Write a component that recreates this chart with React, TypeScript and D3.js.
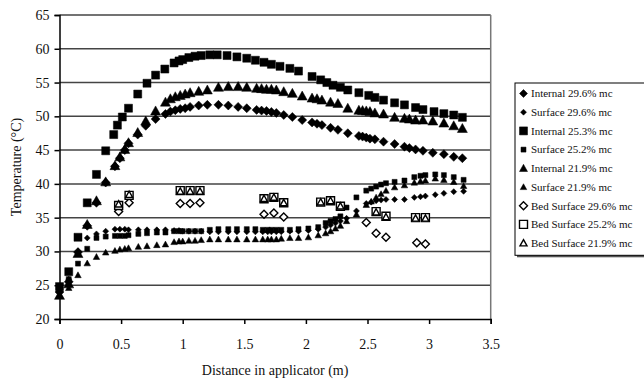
import React, { useEffect, useRef } from 'react';
import * as d3 from 'd3';

const W = 644;
const H = 384;

// distance along applicator (m) for the internal probes
const internal253X = [0, 0.075, 0.15, 0.225, 0.3, 0.375, 0.44, 0.47, 0.51, 0.56, 0.635, 0.71, 0.78, 0.855, 0.93, 0.97, 1.0, 1.05, 1.1, 1.15, 1.22, 1.28, 1.36, 1.44, 1.52, 1.59, 1.66, 1.72, 1.79, 1.87, 1.94, 2.05, 2.12, 2.17, 2.22, 2.28, 2.34, 2.43, 2.51, 2.56, 2.63, 2.72, 2.8, 2.89, 2.95, 3.04, 3.12, 3.2, 3.27];
const internal253 = [24.8, 27.0, 32.1, 37.2, 41.4, 44.9, 47.3, 48.7, 49.9, 51.2, 53.3, 54.9, 56.1, 57.0, 57.9, 58.2, 58.4, 58.7, 58.9, 59.0, 59.1, 59.1, 59.0, 58.8, 58.6, 58.3, 58.0, 57.7, 57.4, 57.1, 56.7, 55.9, 55.4, 55.0, 54.6, 54.3, 53.9, 53.5, 53.1, 52.8, 52.4, 52.0, 51.7, 51.3, 51.0, 50.7, 50.4, 50.2, 49.85];

const internalX = [0, 0.075, 0.15, 0.225, 0.3, 0.375, 0.45, 0.49, 0.53, 0.56, 0.635, 0.7, 0.78, 0.86, 0.9, 0.94, 0.98, 1.02, 1.06, 1.13, 1.2, 1.29, 1.37, 1.45, 1.52, 1.6, 1.64, 1.68, 1.72, 1.76, 1.82, 1.89, 1.97, 2.05, 2.09, 2.13, 2.2, 2.26, 2.34, 2.43, 2.46, 2.49, 2.52, 2.56, 2.63, 2.72, 2.8, 2.84, 2.89, 2.95, 3.03, 3.12, 3.2, 3.27];
const internal296 = [24.0, 25.5, 29.9, 33.8, 37.2, 40.2, 42.6, 43.8, 45.0, 46.0, 47.3, 48.6, 49.6, 50.35, 50.7, 50.9, 51.1, 51.2, 51.4, 51.6, 51.7, 51.7, 51.6, 51.4, 51.2, 50.95, 50.85, 50.8, 50.65, 50.5, 50.2, 49.9, 49.45, 49.1, 48.9, 48.7, 48.3, 48.0, 47.5, 47.1, 47.0, 46.85, 46.7, 46.6, 46.25, 45.9, 45.5, 45.3, 45.1, 44.9, 44.6, 44.4, 44.0, 43.8];
const internal219 = [23.5, 25.2, 29.7, 34.0, 37.5, 40.3, 42.7, 44.0, 45.1, 46.1, 47.6, 49.3, 50.8, 52.1, 52.6, 52.9, 53.1, 53.3, 53.5, 53.7, 53.9, 54.3, 54.4, 54.4, 54.3, 54.15, 54.1, 54.0, 54.0, 53.9, 53.65, 53.4, 53.0, 52.7, 52.6, 52.4, 52.1, 51.9, 51.2, 50.9, 50.85, 50.8, 50.7, 50.5, 50.35, 49.85, 49.7, 49.6, 49.45, 49.45, 49.3, 49.0, 48.6, 48.2];

// surface probes
const surfaceX = [0, 0.075, 0.15, 0.225, 0.3, 0.375, 0.45, 0.49, 0.53, 0.56, 0.64, 0.71, 0.79, 0.86, 0.93, 0.97, 1.0, 1.05, 1.1, 1.15, 1.22, 1.29, 1.37, 1.44, 1.52, 1.59, 1.65, 1.69, 1.72, 1.76, 1.8, 1.87, 1.94, 2.02, 2.1, 2.16, 2.2, 2.24, 2.28, 2.33, 2.41, 2.49, 2.53, 2.57, 2.61, 2.65, 2.72, 2.8, 2.88, 2.93, 2.97, 3.05, 3.12, 3.2, 3.28];
const surface296 = [24.3, 25.9, 29.8, 32.0, 32.6, 33.0, 33.3, 33.3, 33.3, 33.2, 33.2, 33.2, 33.2, 33.2, 33.1, 33.1, 33.0, 33.0, 33.0, 33.0, 32.9, 32.9, 32.9, 32.9, 32.9, 32.9, 32.9, 32.9, 32.9, 32.9, 32.9, 33.0, 33.0, 33.1, 33.3, 33.6, 33.9, 34.2, 34.5, 34.9, 36.0, 37.1, 37.3, 37.5, 37.6, 37.7, 37.7, 37.7, 38.0, 38.1, 38.2, 38.4, 38.6, 38.85, 38.9];
const surface252 = [24.7, 25.9, 28.2, 30.4, 32.0, 32.2, 32.3, 32.3, 32.3, 32.4, 32.6, 32.7, 32.8, 32.8, 33.0, 33.0, 33.0, 33.0, 33.0, 33.0, 33.2, 33.3, 33.3, 33.3, 33.3, 33.3, 33.2, 33.2, 33.2, 33.2, 33.2, 33.2, 33.3, 33.4, 33.6, 34.2, 34.5, 34.8, 35.2, 36.5, 38.0, 39.0, 39.3, 39.6, 39.9, 40.1, 40.3, 40.5, 41.0, 41.2, 41.3, 41.4, 41.3, 41.0, 40.6];
const surface219 = [23.55, 24.6, 26.5, 28.25, 29.2, 29.85, 30.1, 30.3, 30.4, 30.5, 30.7, 30.8, 30.95, 31.05, 31.4, 31.5, 31.5, 31.6, 31.6, 31.7, 31.8, 31.8, 31.8, 31.8, 31.8, 31.8, 31.8, 31.8, 31.8, 31.8, 31.9, 32.0, 32.0, 32.1, 32.4, 32.7, 33.0, 33.4, 33.8, 34.5, 35.5, 36.9, 37.4, 38.0, 38.5, 39.0, 39.5, 39.8, 40.2, 40.4, 40.5, 40.8, 40.6, 40.3, 39.7];

// bed surface readings
const bed296X = [0.48, 0.565, 0.98, 1.06, 1.14, 1.66, 1.74, 1.82, 2.49, 2.57, 2.65, 2.9, 2.97];
const bed296 = [35.9, 37.2, 37.1, 37.1, 37.2, 35.5, 35.7, 35.1, 34.3, 32.7, 32.1, 31.3, 31.1];
const bedX = [0.48, 0.565, 0.98, 1.06, 1.14, 1.66, 1.74, 1.82, 2.12, 2.2, 2.28, 2.57, 2.65, 2.89, 2.97];
const bed252 = [36.8, 38.3, 39.0, 39.0, 39.0, 37.8, 38.0, 37.2, 37.3, 37.5, 36.7, 35.9, 35.2, 35.0, 35.0];
const bed219 = [37.0, 38.4, 38.9, 38.9, 38.9, 37.8, 38.0, 37.2, 37.3, 37.5, 36.7, 35.8, 35.1, 34.9, 34.9];

const seriesNames = ['Internal 29.6% mc', 'Surface 29.6% mc', 'Internal 25.3% mc', 'Surface 25.2% mc', 'Internal 21.9% mc', 'Surface 21.9% mc', 'Bed Surface 29.6% mc', 'Bed Surface 25.2% mc', 'Bed Surface 21.9% mc'];
const xTicks = [0, 0.5, 1, 1.5, 2, 2.5, 3, 3.5];
const yTicks = [20, 25, 30, 35, 40, 45, 50, 55, 60, 65];

// custom marker shapes, size = (full width)^2
const square = { draw(ctx: any, size: number) { const r = Math.sqrt(size) / 2; ctx.rect(-r, -r, 2 * r, 2 * r); } };
const diamond = { draw(ctx: any, size: number) { const r = Math.sqrt(size) / 2; ctx.moveTo(0, -r); ctx.lineTo(r, 0); ctx.lineTo(0, r); ctx.lineTo(-r, 0); ctx.closePath(); } };
const triangle = { draw(ctx: any, size: number) { const r = Math.sqrt(size) / 2; ctx.moveTo(0, -r); ctx.lineTo(r, r * 0.8); ctx.lineTo(-r, r * 0.8); ctx.closePath(); } };

const series = [
  { xs: internalX, ys: internal296, shape: diamond, w: 9, hollow: false },
  { xs: surfaceX, ys: surface296, shape: diamond, w: 6, hollow: false },
  { xs: internal253X, ys: internal253, shape: square, w: 8, hollow: false },
  { xs: surfaceX, ys: surface252, shape: square, w: 5, hollow: false },
  { xs: internalX, ys: internal219, shape: triangle, w: 10, hollow: false },
  { xs: surfaceX, ys: surface219, shape: triangle, w: 6.5, hollow: false },
  { xs: bed296X, ys: bed296, shape: diamond, w: 8, hollow: true },
  { xs: bedX, ys: bed252, shape: square, w: 8, hollow: true },
  { xs: bedX, ys: bed219, shape: triangle, w: 7, hollow: true },
];

const FONT = '"Liberation Serif", "Times New Roman", serif';

const App = () => {
  const svgRef = useRef<SVGSVGElement>(null);

  useEffect(() => {
    const svg = d3.select(svgRef.current);
    svg.selectAll('*').remove();

    const left = 59.5, right = 490.7, top = 15, bottom = 319;
    const x = d3.scaleLinear().domain([0, 3.5]).range([left, right]);
    const y = d3.scaleLinear().domain([20, 65]).range([bottom, top]);

    // gridlines
    svg.append('g')
      .selectAll('line')
      .data(yTicks.filter(t => t > 20))
      .enter()
      .append('line')
      .attr('x1', left).attr('x2', right)
      .attr('y1', d => y(d)).attr('y2', d => y(d))
      .attr('stroke', '#444').attr('stroke-width', 1.5);

    // right border
    svg.append('line')
      .attr('x1', right).attr('x2', right).attr('y1', top).attr('y2', bottom)
      .attr('stroke', '#777').attr('stroke-width', 1.5);

    // axes
    const yAxis = svg.append('g')
      .attr('transform', `translate(${left},0)`)
      .call(d3.axisLeft(y).tickValues(yTicks).tickSize(5).tickPadding(5).tickFormat(d3.format('d')));
    const xAxis = svg.append('g')
      .attr('transform', `translate(0,${bottom})`)
      .call(d3.axisBottom(x).tickValues(xTicks).tickSize(5).tickPadding(15).tickFormat(d3.format('')));
    [yAxis, xAxis].forEach(g => {
      g.select('.domain').attr('stroke', '#000').attr('stroke-width', 1.5);
      g.selectAll('.tick line').attr('stroke', '#000').attr('stroke-width', 1.5);
      g.selectAll('.tick text').attr('font-family', FONT).attr('font-size', 14).attr('fill', '#111');
    });

    // axis titles
    svg.append('text')
      .attr('x', (left + right) / 2).attr('y', 375)
      .attr('text-anchor', 'middle')
      .attr('font-family', FONT).attr('font-size', 14).attr('fill', '#111')
      .text('Distance in applicator (m)');
    svg.append('text')
      .attr('transform', `translate(21,${(top + bottom) / 2}) rotate(-90)`)
      .attr('text-anchor', 'middle')
      .attr('font-family', FONT).attr('font-size', 14).attr('fill', '#111')
      .text('Temperature (°C)');

    // data markers
    series.forEach(s => {
      const sym = d3.symbol().type(s.shape as any).size(s.w * s.w);
      svg.append('g')
        .selectAll('path')
        .data(s.xs.map((d, i) => [d, s.ys[i]]))
        .enter()
        .append('path')
        .attr('transform', d => `translate(${x(d[0])},${y(d[1])})`)
        .attr('d', sym as any)
        .attr('fill', s.hollow ? '#fff' : '#000')
        .attr('stroke', '#000')
        .attr('stroke-width', s.hollow ? 1.4 : 0.5);
    });

    // legend
    const lx = 515, ly = 83, lw = 140, rowH = 18.7;
    const lh = rowH * seriesNames.length + 4;
    svg.append('rect')
      .attr('x', lx + 2).attr('y', ly + 2).attr('width', lw).attr('height', lh)
      .attr('fill', '#555');
    svg.append('rect')
      .attr('x', lx).attr('y', ly).attr('width', lw).attr('height', lh)
      .attr('fill', '#fff').attr('stroke', '#000').attr('stroke-width', 1);
    const items = svg.append('g')
      .selectAll('g')
      .data(seriesNames)
      .enter()
      .append('g')
      .attr('transform', (d, i) => `translate(${lx + 8.5},${ly + 10.5 + i * rowH})`);
    items.append('path')
      .attr('d', (d, i) => d3.symbol().type(series[i].shape as any).size(Math.pow(Math.min(series[i].w, 8), 2))() as string)
      .attr('fill', (d, i) => series[i].hollow ? '#fff' : '#000')
      .attr('stroke', '#000')
      .attr('stroke-width', (d, i) => series[i].hollow ? 1.4 : 0.5);
    items.append('text')
      .attr('x', 7.5).attr('dy', '0.35em')
      .attr('font-family', FONT).attr('font-size', 11).attr('fill', '#111')
      .text(d => d);
  }, []);

  return (
    <svg
      ref={svgRef}
      width={W}
      height={H}
      style={{ position: 'absolute', left: 0, top: 0, background: '#fff' }}
    />
  );
};

export default App;
